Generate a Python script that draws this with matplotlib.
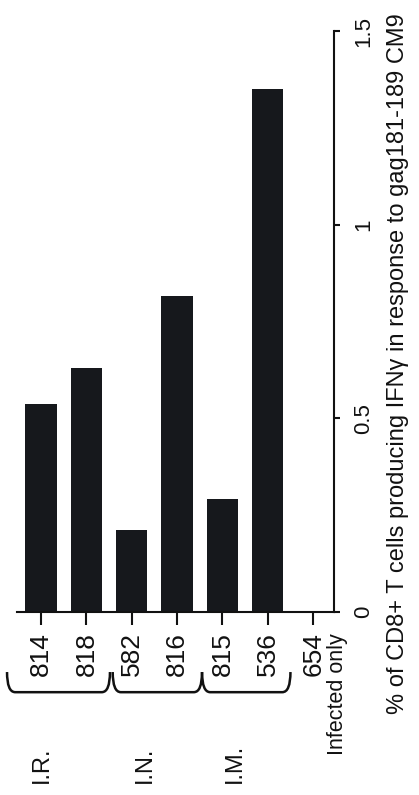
import numpy as np
import matplotlib.pyplot as plt
from matplotlib.path import Path
from matplotlib.patches import PathPatch

plt.rcParams['font.family'] = ['Liberation Sans', 'DejaVu Sans']

# data
donors = ['814', '818', '582', '816', '815', '536', '654']
values = [0.537, 0.630, 0.212, 0.816, 0.292, 1.350, 0.0]
groups = ['I.R.', 'I.N.', 'I.M.']
group_label_x = [0.02, 2.3, 4.28]
brace_edges = [(-0.75, 1.52), (1.58, 3.55), (3.55, 5.5)]
value_ticks = [0, 0.5, 1, 1.5]
value_ticklabels = ['0', '0.5', '1', '1.5']

fig = plt.figure(figsize=(4.19, 7.95), dpi=100)
ax = fig.add_axes([17 / 419, 1 - 612 / 795, 317 / 419, 581 / 795])

x = np.arange(len(donors))
ax.bar(x, values, width=0.69, color='#16181c', edgecolor='none')

ax.set_xlim(-0.53, 6.46)
ax.set_ylim(0, 1.5)

for s in ['left', 'top']:
    ax.spines[s].set_visible(False)
for s in ['bottom', 'right']:
    ax.spines[s].set_linewidth(1.5)
    ax.spines[s].set_color('#111111')

ax.set_xticks(x)
ax.set_xticklabels(donors, rotation=90, fontsize=19)
ax.tick_params(axis='x', direction='out', length=9.5, width=1.5, pad=5, colors='#111111')

ax.yaxis.tick_right()
ax.set_yticks(value_ticks)
ax.set_yticklabels(value_ticklabels, rotation=90, va='center', fontsize=16)
ax.tick_params(axis='y', direction='out', length=4.5, width=1.5, pad=9, colors='#111111')

# second line under the control donor
ax.text(6.53, -0.056, 'Infected only', rotation=90, ha='center', va='top',
        fontsize=15.5, color='#111111', clip_on=False)

# group braces
ytop, ybot, r = -0.155, -0.207, 0.18
for (x0, x1) in brace_edges:
    verts = [(x0, ytop), (x0, ybot), (x0 + r, ybot),
             (x1 - r, ybot),
             (x1, ybot), (x1, ytop)]
    codes = [Path.MOVETO, Path.CURVE3, Path.CURVE3,
             Path.LINETO,
             Path.CURVE3, Path.CURVE3]
    ax.add_patch(PathPatch(Path(verts, codes), fill=False, lw=1.8,
                           edgecolor='#111111', clip_on=False))

for g, gx in zip(groups, group_label_x):
    ax.text(gx, -0.4415, g, rotation=90, ha='center', va='bottom',
            fontsize=17, color='#111111', clip_on=False)

fig.text(398 / 419, 1 - 364 / 795,
         '% of CD8+ T cells producing IFN\u03b3 in response to gag181-189 CM9',
         rotation=90, ha='center', va='center', fontsize=17, color='#111111')

fig.savefig('out.png', dpi=100)
plt.close(fig)
